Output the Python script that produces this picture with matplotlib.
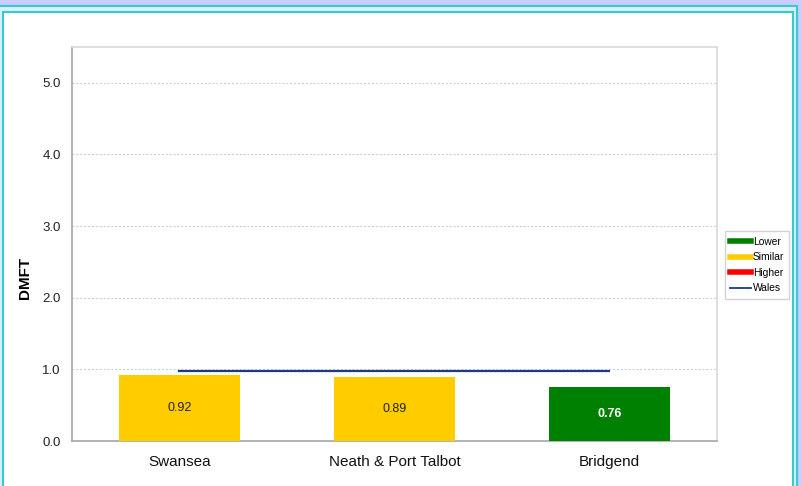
import matplotlib.pyplot as plt
from matplotlib.patches import Rectangle
from matplotlib.lines import Line2D

plt.rcParams['font.family'] = ['Liberation Sans', 'DejaVu Sans']

areas = ['Swansea', 'Neath & Port Talbot', 'Bridgend']
dmft = [0.92, 0.89, 0.76]
bar_colors = ['#FFCC00', '#FFCC00', '#008000']
label_colors = ['#222222', '#222222', 'white']
wales = 0.98

W, H = 803, 486
fig = plt.figure(figsize=(W / 100, H / 100), dpi=100)
fig.patch.set_facecolor('#CCCCFF')


def box(x0, top, x1, bottom, face):
    # pixel coords, y measured from the top
    return Rectangle((x0 / W, 1 - bottom / H), (x1 - x0) / W, (bottom - top) / H,
                     transform=fig.transFigure, facecolor=face, edgecolor='#33CCCC',
                     lw=1.5, zorder=-10)


fig.patches.append(box(-5, 6, 797, 520, '#DDEEF6'))
fig.patches.append(box(3, 12, 793, 520, 'white'))

ax = fig.add_axes([72 / W, 45 / H, 645 / W, 394 / H])
x = range(len(areas))
ax.bar(x, dmft, width=0.56, color=bar_colors, zorder=3)
for i, v in enumerate(dmft):
    ax.text(i, v / 2, f'{v:.2f}', ha='center', va='center', fontsize=9,
            color=label_colors[i], fontweight='bold' if label_colors[i] == 'white' else 'normal', zorder=4)
ax.plot([0, len(areas) - 1], [wales, wales], color='#1F3A7A', lw=1.6, zorder=4)

ax.set_xlim(-0.5, 2.5)
ax.set_ylim(0, 5.5)
ax.set_yticks([0, 1, 2, 3, 4, 5])
ax.set_yticklabels([f'{t:.1f}' for t in [0, 1, 2, 3, 4, 5]], fontsize=9.5, color='#222222')
ax.set_xticks(list(x))
ax.set_xticklabels(areas, fontsize=11, color='#111111')
ax.tick_params(axis='x', length=0, pad=10)
ax.tick_params(axis='y', length=0, pad=8)
ax.yaxis.grid(True, color='#B8CCE4', ls=(0, (2, 2)), lw=0.7, zorder=0)
ax.set_ylabel('DMFT', fontsize=11, fontweight='bold')
ax.yaxis.set_label_coords(-0.062, 0.414)
for s in ['left', 'bottom']:
    ax.spines[s].set_color('#A6A6A6')
    ax.spines[s].set_linewidth(1.2)
for s in ['top', 'right']:
    ax.spines[s].set_color('#D9D9D9')
    ax.spines[s].set_linewidth(1.2)

handles = [
    Line2D([], [], color='#008000', lw=4),
    Line2D([], [], color='#FFCC00', lw=4),
    Line2D([], [], color='#FF0000', lw=4),
    Line2D([], [], color='#1F3A7A', lw=1.3),
]
leg = fig.legend(handles, ['Lower', 'Similar', 'Higher', 'Wales'], loc='center left',
                 bbox_to_anchor=(725 / W, 1 - 265 / H), fontsize=7.4, frameon=True,
                 fancybox=False, handlelength=2.0, handletextpad=0.2, labelspacing=0.55,
                 borderpad=0.5, borderaxespad=0)
leg.get_frame().set_edgecolor('#C8C8C8')
leg.get_frame().set_linewidth(1)

fig.savefig('out.png', dpi=100, facecolor=fig.get_facecolor())
